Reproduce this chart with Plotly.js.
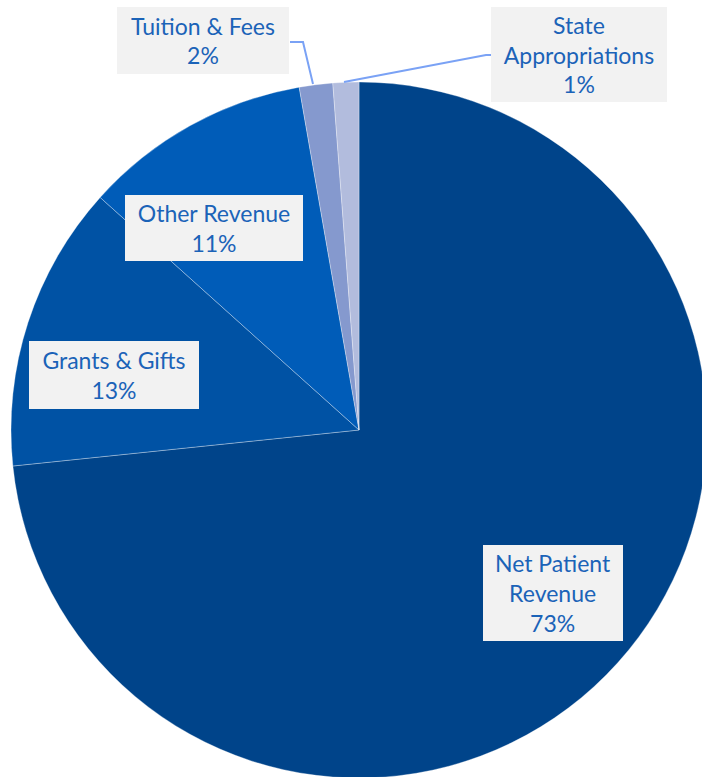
<!DOCTYPE html>
<html>
<head>
<meta charset="utf-8">
<script src="https://cdn.plot.ly/plotly-3.0.1.min.js"></script>
<style>
html,body{margin:0;padding:0;overflow:hidden;background:#fff;}
</style>
</head>
<body>
<div id="chart"></div>
<script>
// Data
var categories = ["Net Patient Revenue", "Grants & Gifts", "Other Revenue", "Tuition & Fees", "State Appropriations"];
var displayLabels = ["Net Patient<br>Revenue", "Grants & Gifts", "Other Revenue", "Tuition & Fees", "State<br>Appropriations"];
var values = [73.35, 13.3, 10.6, 1.55, 1.2];
var colors = ["#00448A", "#0052A4", "#005CB8", "#8599CE", "#B2BCDD"];

// Layout helpers (pixel positions of label boxes)
var W = 716, H = 778;
var boxes = [
  {cx: 553, cy: 593, w: 140, h: 96},
  {cx: 114, cy: 375, w: 170, h: 68},
  {cx: 214, cy: 228, w: 178, h: 66},
  {cx: 203, cy: 40.5, w: 172, h: 67},
  {cx: 579, cy: 54.5, w: 176, h: 95}
];
function px(x){return x / W;}
function py(y){return 1 - y / H;}

var total = values.reduce(function(a,b){return a+b;}, 0);
var annotations = categories.map(function(c, i){
  var pct = Math.round(values[i] / total * 100);
  var b = boxes[i];
  return {
    xref: 'paper', yref: 'paper',
    x: px(b.cx), y: py(b.cy),
    xanchor: 'center', yanchor: 'middle',
    text: displayLabels[i] + '<br>' + pct + '%',
    showarrow: false,
    bgcolor: '#F2F2F2',
    borderpad: 0,
    borderwidth: 0,
    width: b.w, height: b.h,
    align: 'center', valign: 'middle',
    font: {family: 'Lato, sans-serif', size: 23, color: '#1B63B8'}
  };
});

function pathFrom(pts){
  return pts.map(function(p, i){return (i ? 'L' : 'M') + px(p[0]) + ',' + py(p[1]);}).join(' ');
}
var shapes = [
  {type: 'path', xref: 'paper', yref: 'paper', path: pathFrom([[290,42],[303,42],[313,84]]), line: {color: '#7AA2F5', width: 2}},
  {type: 'path', xref: 'paper', yref: 'paper', path: pathFrom([[344,82],[486,55],[491,55]]), line: {color: '#7AA2F5', width: 2}}
];

var trace = {
  type: 'pie',
  labels: categories,
  values: values,
  sort: false,
  direction: 'clockwise',
  rotation: 0,
  textinfo: 'none',
  hoverinfo: 'skip',
  marker: {colors: colors, line: {color: 'rgba(255,255,255,0.45)', width: 0.7}},
  domain: {x: [11 / W, 707 / W], y: [0, 1 - 82 / H]},
  showlegend: false
};

var layout = {
  width: W, height: H,
  margin: {l: 0, r: 0, t: 0, b: 0},
  paper_bgcolor: '#ffffff',
  showlegend: false,
  annotations: annotations,
  shapes: shapes,
  font: {family: 'Lato, sans-serif'}
};

Plotly.newPlot('chart', [trace], layout, {displayModeBar: false, staticPlot: true});
</script>
</body>
</html>
